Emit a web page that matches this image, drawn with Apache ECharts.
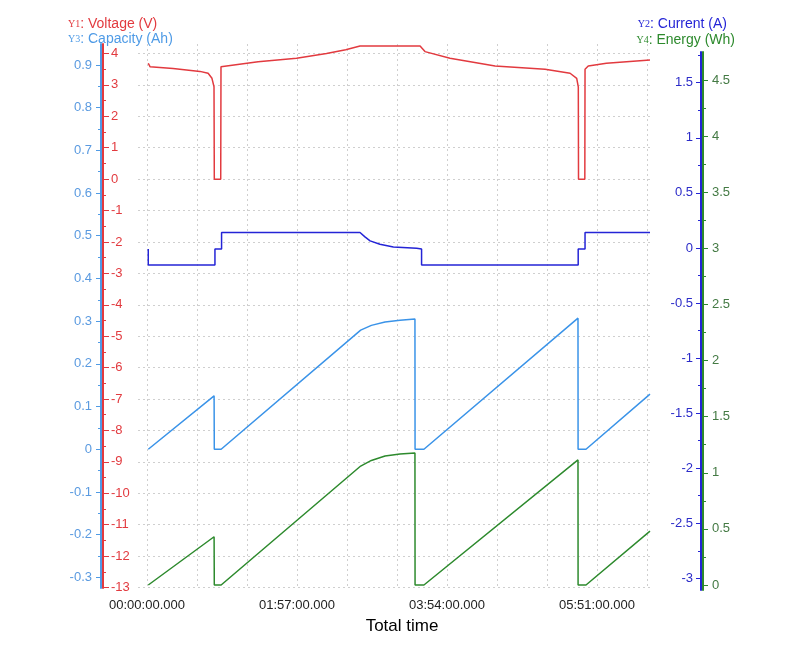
<!DOCTYPE html>
<html>
<head>
    <meta charset="utf-8"/>
    <title>Battery cycle</title>
    <script src="https://cdn.jsdelivr.net/npm/echarts@6/dist/echarts.min.js"></script>
    <style>html,body{margin:0;padding:0;background:#fff;}</style>
</head>
<body>
<div id="main" style="width:800px;height:658px;"></div>
<script type="text/javascript">
    // time axis values are seconds from start
    var timeLabels = [0, 7020, 14040, 21060];
    var timeGrid = [0, 2340, 4680, 7020, 9360, 11700, 14040, 16380, 18720, 21060, 23400];

    // axis tick labels
    var voltTicks = [-13, -12, -11, -10, -9, -8, -7, -6, -5, -4, -3, -2, -1, 0, 1, 2, 3, 4];
    var voltMinor = [-12.5, -11.5, -10.5, -9.5, -8.5, -7.5, -6.5, -5.5, -4.5, -3.5, -2.5, -1.5, -0.5, 0.5, 1.5, 2.5, 3.5];
    var capTicks = [-0.3, -0.2, -0.1, 0, 0.1, 0.2, 0.3, 0.4, 0.5, 0.6, 0.7, 0.8, 0.9];
    var capMinor = [-0.25, -0.15, -0.05, 0.05, 0.15, 0.25, 0.35, 0.45, 0.55, 0.65, 0.75, 0.85];
    var curTicks = [-3, -2.5, -2, -1.5, -1, -0.5, 0, 0.5, 1, 1.5];
    var curMinor = [-2.75, -2.25, -1.75, -1.25, -0.75, -0.25, 0.25, 0.75, 1.25, 1.75];
    var enTicks = [0, 0.5, 1, 1.5, 2, 2.5, 3, 3.5, 4, 4.5];
    var enMinor = [0.25, 0.75, 1.25, 1.75, 2.25, 2.75, 3.25, 3.75, 4.25];

    // series [time s, value]
    var voltage = [[60, 3.69], [140, 3.58], [1220, 3.52], [2480, 3.43], [2860, 3.37], [3040, 3.21], [3136, 2.94], [3150, 0],
        [3450, 0], [3463, 3.58], [3500, 3.63], [5200, 3.74], [7000, 3.85], [8400, 4.0], [9300, 4.12], [9970, 4.24],
        [12780, 4.24], [12850, 4.18], [13010, 4.06], [14180, 3.85], [16290, 3.60], [18630, 3.50], [19800, 3.37],
        [20110, 3.21], [20185, 2.94], [20195, 0], [20490, 0], [20500, 3.50], [20650, 3.60], [21500, 3.69], [23540, 3.79]];
    var current = [[60, -0.01], [60, -0.155], [3180, -0.155], [3180, -0.01], [3490, -0.01], [3490, 0.14], [9970, 0.14],
        [10200, 0.10], [10440, 0.064], [10900, 0.034], [11530, 0.009], [12620, -0.003], [12850, -0.01], [12850, -0.155],
        [20180, -0.155], [20180, -0.01], [20500, -0.01], [20500, 0.14], [23540, 0.14]];
    var capacity = [[60, 0], [3140, 0.125], [3150, 0], [3470, 0], [10000, 0.279], [10500, 0.29], [11140, 0.298],
        [11840, 0.302], [12540, 0.305], [12545, 0], [12960, 0], [20170, 0.307], [20175, 0], [20545, 0], [23540, 0.129]];
    var energy = [[60, 0], [3140, 0.43], [3150, 0], [3470, 0], [10000, 1.06], [10500, 1.11], [11140, 1.15],
        [11840, 1.167], [12540, 1.177], [12545, 0], [12960, 0], [20170, 1.115], [20175, 0], [20545, 0], [23540, 0.48]];

    var RED = '#e23a3f', LBLUE = '#4f9be6', BLUE = '#2424d6', GREEN = '#2d8a2d';
    var FONT = '"Liberation Sans", Arial, sans-serif';

    function pad(n) { return (n < 10 ? '0' : '') + n; }
    function fmtTime(v) {
        var h = Math.floor(v / 3600), m = Math.floor(v % 3600 / 60), s = Math.floor(v % 60);
        return pad(h) + ':' + pad(m) + ':' + pad(s) + '.000';
    }

    function yAx(grid, pos, off, min, max, ticks, lineColor, labelColor, inside, len, major) {
        return {
            type: 'value', gridIndex: grid, position: pos, offset: off, min: min, max: max,
            axisLine: {show: major, onZero: false, lineStyle: {color: lineColor, width: 2}},
            axisTick: {show: true, inside: inside, length: len, customValues: ticks, lineStyle: {color: lineColor, width: 1}},
            axisLabel: {show: major, inside: inside, margin: inside ? 8 : 9, customValues: ticks, color: labelColor,
                fontSize: 13, fontFamily: FONT},
            splitLine: {show: false}
        };
    }

    var xBase = {type: 'value', min: -2059, max: 25927, axisLine: {show: false}, axisTick: {show: false},
        axisLabel: {show: false}, splitLine: {show: false}};

    var myChart = echarts.init(document.getElementById('main'));
    var option = {
        animation: false,
        backgroundColor: '#fff',
        grid: [
            {left: 103, right: 99, top: 44, bottom: 70, outerBoundsMode: 'none'},
            {left: 103, right: 99, top: 52, bottom: 68, outerBoundsMode: 'none'},
            {left: 138, right: 150, top: 44, bottom: 70, outerBoundsMode: 'none'}
        ],
        xAxis: [
            echarts.util.merge({gridIndex: 0, name: 'Total time', nameLocation: 'middle', nameGap: 30,
                nameTextStyle: {color: '#000', fontSize: 17, fontFamily: FONT},
                axisTick: {show: false, customValues: timeLabels},
                axisLabel: {show: true, customValues: timeLabels, formatter: fmtTime, color: '#222', fontSize: 13,
                    fontFamily: FONT, margin: 11}}, xBase, false),
            echarts.util.merge({gridIndex: 1}, xBase, false),
            {type: 'value', gridIndex: 2, min: -421, max: 23540, axisLine: {show: false},
                axisTick: {show: false, customValues: timeGrid}, axisLabel: {show: false},
                splitLine: {show: true, lineStyle: {color: '#cfcfcf', width: 1, type: [2, 3]}}}
        ],
        yAxis: [
            yAx(0, 'left', 0, -13.016, 4.302, voltTicks, RED, RED, true, 6, true),
            yAx(0, 'left', 2, -0.325, 0.949, capTicks, LBLUE, '#5a9ae0', false, 5, true),
            yAx(1, 'right', 0, -3.106, 1.779, curTicks, BLUE, '#2b2bc8', true, 5, true),
            yAx(1, 'right', 2, -0.0446, 4.75, enTicks, GREEN, '#447a44', false, 5, true),
            yAx(0, 'left', 0, -13.016, 4.302, voltMinor, RED, RED, true, 3, false),
            yAx(0, 'left', 2, -0.325, 0.949, capMinor, LBLUE, LBLUE, false, 3, false),
            yAx(1, 'right', 0, -3.106, 1.779, curMinor, BLUE, BLUE, true, 3, false),
            yAx(1, 'right', 2, -0.0446, 4.75, enMinor, GREEN, GREEN, false, 3, false),
            {type: 'value', gridIndex: 2, min: -13.016, max: 4.302, axisLine: {show: false},
                axisTick: {show: false, customValues: voltTicks}, axisLabel: {show: false},
                splitLine: {show: true, lineStyle: {color: '#cfcfcf', width: 1, type: [2, 3]}}}
        ],
        graphic: [
            {type: 'text', left: 68, top: 17, style: {text: '{p|Y1}: Voltage (V)', fill: RED, font: '14px ' + FONT,
                rich: {p: {fontSize: 10, fontFamily: 'serif', fill: RED}}}},
            {type: 'text', left: 68, top: 32, style: {text: '{p|Y3}: Capacity (Ah)', fill: LBLUE, font: '14px ' + FONT,
                rich: {p: {fontSize: 10, fontFamily: 'serif', fill: LBLUE}}}},
            {type: 'text', right: 73, top: 17, style: {text: '{p|Y2}: Current (A)', fill: BLUE, font: '14px ' + FONT,
                rich: {p: {fontSize: 10, fontFamily: 'serif', fill: BLUE}}}},
            {type: 'text', right: 65, top: 33, style: {text: '{p|Y4}: Energy (Wh)', fill: GREEN, font: '14px ' + FONT,
                rich: {p: {fontSize: 10, fontFamily: 'serif', fill: GREEN}}}}
        ],
        series: [
            {name: 'Voltage (V)', type: 'line', xAxisIndex: 0, yAxisIndex: 0, data: voltage, showSymbol: false,
                lineStyle: {color: RED, width: 1.5}, z: 5},
            {name: 'Capacity (Ah)', type: 'line', xAxisIndex: 0, yAxisIndex: 1, data: capacity, showSymbol: false,
                lineStyle: {color: '#3a93e8', width: 1.5}, z: 5},
            {name: 'Current (A)', type: 'line', xAxisIndex: 1, yAxisIndex: 2, data: current, showSymbol: false,
                lineStyle: {color: BLUE, width: 1.5}, z: 5},
            {name: 'Energy (Wh)', type: 'line', xAxisIndex: 1, yAxisIndex: 3, data: energy, showSymbol: false,
                lineStyle: {color: GREEN, width: 1.5}, z: 5}
        ]
    };
    myChart.setOption(option);
</script>
</body>
</html>
